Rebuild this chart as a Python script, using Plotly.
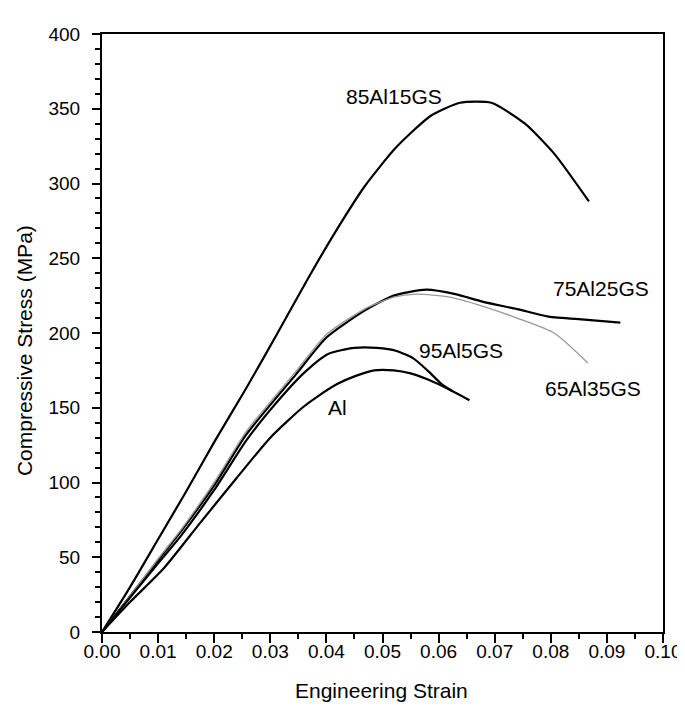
import plotly.graph_objects as go

# ---- data ----
strain_85 = [0, 0.005, 0.010, 0.015, 0.020, 0.0257, 0.031, 0.0368, 0.0415, 0.0468, 0.0524, 0.0585, 0.0638, 0.0694, 0.0754, 0.0806, 0.0868]
stress_85 = [0, 30, 62, 94, 127, 163, 198, 237, 267, 298, 324, 345, 354, 354, 340, 320, 288]

strain_75 = [0, 0.005, 0.010, 0.014, 0.020, 0.0257, 0.0345, 0.040, 0.0468, 0.052, 0.0578, 0.063, 0.0678, 0.0740, 0.0796, 0.0860, 0.0924]
stress_75 = [0, 24, 48, 67, 98, 132, 172, 197, 215, 225, 229, 226, 221, 216, 211, 209, 207]

strain_65 = [0, 0.005, 0.010, 0.014, 0.020, 0.0257, 0.0345, 0.040, 0.0468, 0.052, 0.056, 0.062, 0.0678, 0.0740, 0.0806, 0.0866]
stress_65 = [0, 24, 49, 68, 100, 134, 174, 199, 216, 224, 226, 224, 218, 210, 200, 180]

strain_95 = [0, 0.005, 0.010, 0.014, 0.020, 0.0257, 0.0310, 0.0362, 0.0403, 0.0450, 0.0490, 0.0525, 0.0555, 0.0580, 0.0605, 0.0625]
stress_95 = [0, 23, 46, 64, 95, 128, 153, 174, 186, 190, 190, 188, 183, 175, 166, 161]

strain_al = [0, 0.005, 0.0111, 0.0175, 0.024, 0.030, 0.0357, 0.0386, 0.0420, 0.0450, 0.0485, 0.0520, 0.0550, 0.0580, 0.0620, 0.0655]
stress_al = [0, 20, 43, 73, 103, 130, 150, 158, 166, 171, 175, 175, 173, 169, 162, 155]

label_text = ["85Al15GS", "75Al25GS", "95Al5GS", "65Al35GS", "Al"]
label_x = [0.0520, 0.0889, 0.0640, 0.0876, 0.0419]
label_y = [358, 230, 188, 163, 150]

x_ticks = [0.00, 0.01, 0.02, 0.03, 0.04, 0.05, 0.06, 0.07, 0.08, 0.09, 0.10]
y_ticks = [0, 50, 100, 150, 200, 250, 300, 350, 400]

FONT = "Liberation Sans, Arial, sans-serif"

fig = go.Figure()
series = [
    (strain_85, stress_85, "black", 2.2),
    (strain_75, stress_75, "black", 2.2),
    (strain_65, stress_65, "#999999", 1.4),
    (strain_95, stress_95, "black", 2.2),
    (strain_al, stress_al, "black", 2.2),
]
for xs, ys, col, w in series:
    fig.add_trace(go.Scatter(x=xs, y=ys, mode="lines",
                             line=dict(color=col, width=w, shape="spline", smoothing=0.6),
                             showlegend=False, hoverinfo="skip"))

for t, x, y in zip(label_text, label_x, label_y):
    fig.add_annotation(x=x, y=y, text=t, showarrow=False,
                       font=dict(family=FONT, size=21, color="black"))

# axis titles
fig.add_annotation(xref="paper", yref="paper", x=0.498, y=-0.097, text="Engineering Strain",
                   showarrow=False, xanchor="center", yanchor="middle",
                   font=dict(family=FONT, size=21, color="black"))
fig.add_annotation(xref="paper", yref="paper", x=-0.137, y=0.47, text="Compressive Stress (MPa)",
                   showarrow=False, xanchor="center", yanchor="middle", textangle=-90,
                   font=dict(family=FONT, size=21, color="black"))

fig.update_layout(
    width=685, height=707,
    margin=dict(l=94, r=21, t=26, b=83),
    paper_bgcolor="white", plot_bgcolor="white",
    font=dict(family=FONT, size=19, color="black"),
)
fig.update_xaxes(
    range=[0, 0.10], tickvals=x_ticks, ticktext=[f"{v:.2f}" for v in x_ticks],
    showgrid=False, zeroline=False, showline=True, linecolor="black", linewidth=2,
    mirror=True, ticks="outside", ticklen=9, tickwidth=2, tickcolor="black",
    ticklabelstandoff=-8,
    minor=dict(dtick=0.005, ticks="outside", ticklen=5, tickwidth=1.5, tickcolor="black", showgrid=False),
    tickfont=dict(family=FONT, size=19),
)
fig.update_yaxes(
    range=[0, 400], tickvals=y_ticks,
    showgrid=False, zeroline=False, showline=True, linecolor="black", linewidth=2,
    mirror=True, ticks="outside", ticklen=8, tickwidth=2, tickcolor="black",
    ticklabelstandoff=8,
    minor=dict(dtick=10, ticks="outside", ticklen=5, tickwidth=1.5, tickcolor="black", showgrid=False),
    tickfont=dict(family=FONT, size=19),
)

fig.write_html("out.html")
